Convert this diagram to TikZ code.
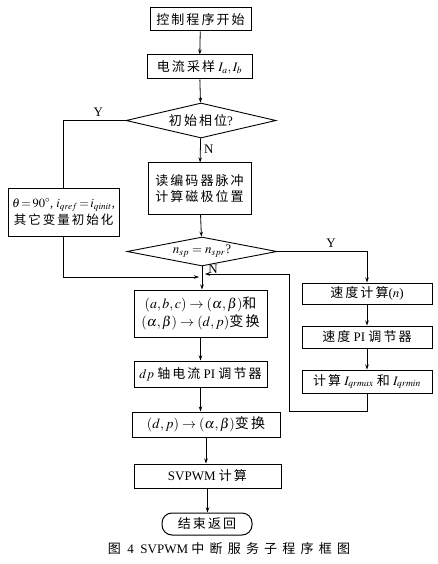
\documentclass[tikz,border=0pt]{standalone}
\usepackage{mathptmx}
\usepackage{fontspec}
\setmainfont{Liberation Serif}
\newfontfamily\cjk{Noto Sans CJK SC}[LetterSpace=16]
\newfontfamily\cjkcap{Noto Sans CJK SC}[LetterSpace=40]
\usetikzlibrary{arrows.meta,shapes.geometric}
\begin{document}
\begin{tikzpicture}[x=1pt, y=-1pt, line width=0.8pt, >={Stealth[length=5pt,width=3.5pt]},
  every node/.style={font=\fontsize{13}{16}\selectfont},
  box/.style={draw,line width=1pt,align=center,inner sep=1pt},
  decision/.style={draw,line width=0.9pt,diamond,aspect=4.3,inner sep=0pt},
  term/.style={draw,line width=1pt,rounded corners=10pt,inner sep=1pt}]
\useasboundingbox (0,0) rectangle (438,564);
% main column
\node[box,minimum width=101pt,minimum height=23pt] (start) at (200.5,19.5) {{\cjk 控制程序开始}};
\node[box,minimum width=105pt,minimum height=24pt] (sample) at (199.5,67) {{\cjk 电流采样} $I_a,I_b$};
\node[decision,minimum width=150pt,minimum height=35pt] (init) at (201,120.5) {{\cjk 初始相位}?};
\node[box,minimum width=103pt,minimum height=51pt] (enc) at (199.5,188.5) {{\cjk 读编码器脉冲}\\{\cjk 计算磁极位置}};
\node[box,minimum width=111pt,minimum height=48pt,font=\fontsize{12.5}{17}\selectfont] (initvar) at (63.5,212) {$\theta\!=\!90^\circ$, $i_{qref}\!=\!i_{qinit}$,\\{\cjk 其它变量初始化}};
\node[decision,minimum width=150pt,minimum height=29pt,aspect=5.2] (cmp) at (202,251.5) {$n_{sp}=n_{spr}$?};
\node[box,minimum width=133pt,minimum height=47pt,font=\fontsize{14}{18}\selectfont] (park) at (200.5,313.5) {$(a,b,c)\rightarrow(\alpha,\beta)${\cjk 和}\\$(\alpha,\beta)\rightarrow(d,p)${\cjk 变换}};
\node[box,minimum width=133pt,minimum height=26pt] (cpi) at (200.5,374) {$dp$ {\cjk 轴电流} PI {\cjk 调节器}};
\node[box,minimum width=148pt,minimum height=25pt,font=\fontsize{14}{17}\selectfont] (ipark) at (206,424.5) {$(d,p)\rightarrow(\alpha,\beta)${\cjk 变换}};
\node[box,minimum width=147pt,minimum height=24pt] (svpwm) at (207.5,476) {SVPWM {\cjk 计算}};
\node[term,minimum width=90pt,minimum height=22pt] (stop) at (207,524) {{\cjk 结束返回}};
% speed branch
\node[box,minimum width=130pt,minimum height=21pt] (spd) at (367,293.5) {{\cjk 速度计算}($n$)};
\node[box,minimum width=130pt,minimum height=22pt] (spi) at (367,337) {{\cjk 速度} PI {\cjk 调节器}};
\node[box,minimum width=130pt,minimum height=23pt] (lim) at (367,381.5) {{\cjk 计算} $I_{qrmax}$ {\cjk 和} $I_{qrmin}$};
\node (caption) at (229,549) {{\cjkcap 图}\ \ 4\ \ SVPWM {\cjkcap 中断服务子程序框图}};
% junctions
\coordinate (jl) at (199,277);
\coordinate (jr) at (205,274);
\coordinate (c1) at (289,411);
% connectors
\draw[->] (start) -- (sample);
\draw[->] (sample) -- (init);
\draw[->] (init) -- node[right,pos=0.45] (nlab) {N} (enc);
\draw (init.west) -| node[above,pos=0.22] (ylab) {Y} (initvar.north);
\draw[->] (enc) -- (cmp);
\draw[->] (initvar.south) |- (jl);
\draw[->] (cmp.south) -- (cmp.south |- park.north);
\node (nlab2) at (213,269) {N};
\draw[->] (cmp.east) -| node[above,pos=0.3] (ylab2) {Y} (spd.north);
\draw[->] (spd) -- (spi);
\draw[->] (spi) -- (lim);
\draw[->] (lim.south) |- (c1) |- (jr);
\draw[->] (park.south) -- (park.south |- cpi.north);
\draw[->] (cpi.south) -- (cpi.south |- ipark.north);
\draw[->] (ipark.south) -- (ipark.south |- svpwm.north);
\draw[->] (svpwm.south) -- (svpwm.south |- stop.north);
\end{tikzpicture}
\end{document}
